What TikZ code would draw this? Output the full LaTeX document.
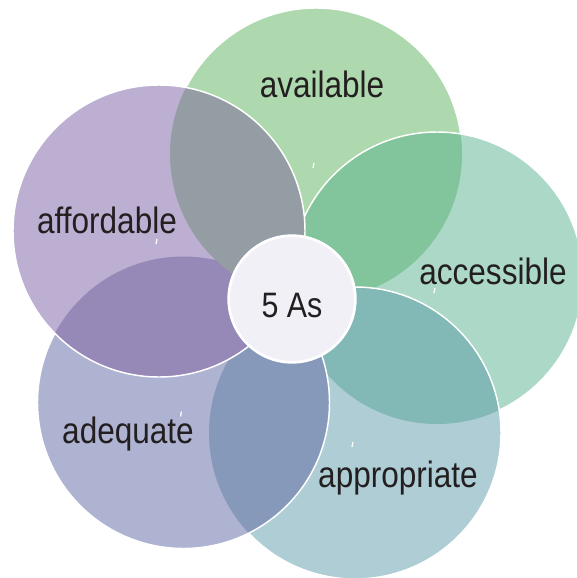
\documentclass[tikz,border=0pt]{standalone}
\usepackage{fontspec}
\setmainfont{Liberation Sans}[FakeStretch=0.86]

\definecolor{ink}{HTML}{231F20}
\definecolor{avlc}{HTML}{AED9AE}
\definecolor{accc}{HTML}{ACD8C8}
\definecolor{appc}{HTML}{AECDD5}
\definecolor{adec}{HTML}{AEB3D1}
\definecolor{affc}{HTML}{BCAFD1}
\definecolor{avlacc}{HTML}{82C49C}
\definecolor{accapp}{HTML}{82B8B6}
\definecolor{appade}{HTML}{8799BA}
\definecolor{adeaff}{HTML}{9689B7}
\definecolor{affavl}{HTML}{959DA4}
\definecolor{corec}{HTML}{F0F0F6}

\tikzset{
  petal/.style={draw=white, line width=1.1pt},
  lbl/.style={text=ink, font=\fontsize{27.5}{32}\selectfont, inner sep=0pt, anchor=base},
  tick/.style={white, line width=0.9pt},
  core/.style={circle, fill=corec, draw=white, line width=2pt, minimum size=95pt, inner sep=0pt},
}
\def\R{109.5pt}

\begin{document}
\begin{tikzpicture}[x=0.75pt,y=-0.75pt]
\useasboundingbox (0,0) rectangle (576,578);

\coordinate (avl) at (316,154);
\coordinate (acc) at (437,278);
\coordinate (app) at (355,433);
\coordinate (ade) at (183.5,402.5);
\coordinate (aff) at (159,231);

\fill[avlc] (avl) circle (\R);
\draw[petal] (avl) circle (\R);

\fill[accc] (acc) circle (\R);
\begin{scope}
\clip (acc) circle (\R);
\fill[avlacc] (avl) circle (\R);
\end{scope}
\draw[petal] (acc) circle (\R);

\fill[appc] (app) circle (\R);
\begin{scope}
\clip (app) circle (\R);
\fill[accapp] (acc) circle (\R);
\end{scope}
\draw[petal] (app) circle (\R);

\fill[adec] (ade) circle (\R);
\begin{scope}
\clip (ade) circle (\R);
\fill[appade] (app) circle (\R);
\end{scope}
\draw[petal] (ade) circle (\R);

\fill[affc] (aff) circle (\R);
\begin{scope}
\clip (aff) circle (\R);
\fill[adeaff] (ade) circle (\R);
\fill[affavl] (avl) circle (\R);
\end{scope}
\draw[petal] (aff) circle (\R);

\draw[tick] (avl) ++(-3,14) -- ++(1,-5);
\draw[tick] (acc) ++(-3,15) -- ++(1,-5);
\draw[tick] (app) ++(-3,14) -- ++(1,-5);
\draw[tick] (ade) ++(-3,14) -- ++(1,-5);
\draw[tick] (aff) ++(-3,13) -- ++(1,-5);

\node[lbl] (avltext) at (322,97) {available};
\node[lbl] (acctext) at (493,284) {accessible};
\node[lbl] (apptext) at (398,487) {appropriate};
\node[lbl] (adetext) at (128,443) {adequate};
\node[lbl] (afftext) at (107,233) {affordable};

\node[core] (hub) at (292,299) {};
\node[lbl, font=\fontsize{26.5}{30}\selectfont] (hubtext) at (292,317) {5 As};

\end{tikzpicture}
\end{document}
